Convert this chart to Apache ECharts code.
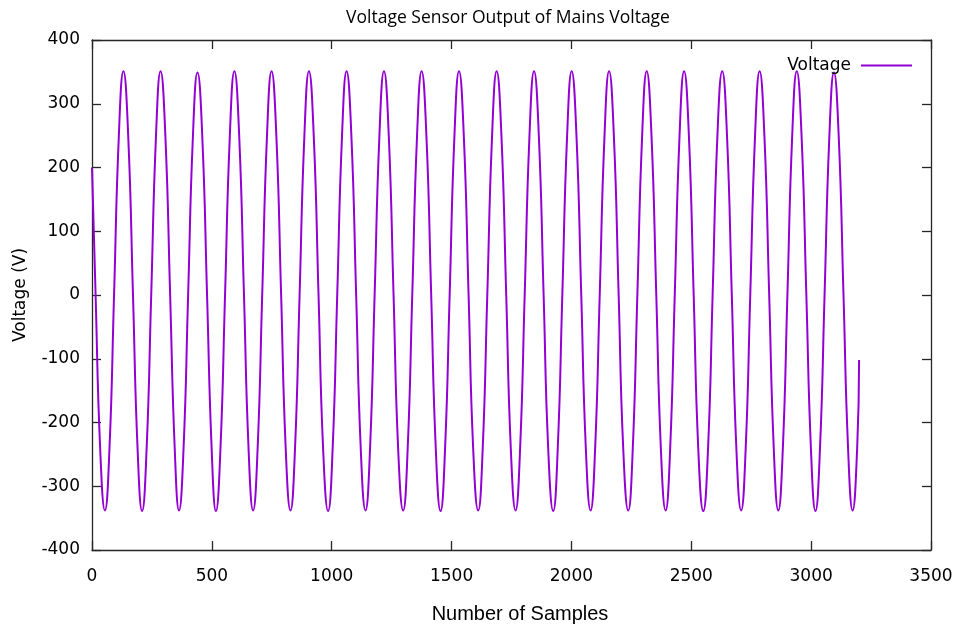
<!DOCTYPE html>
<html>
<head>
<meta charset="utf-8">
<script src="https://cdn.jsdelivr.net/npm/echarts@6/dist/echarts.min.js"></script>
<style>
  html, body { margin: 0; padding: 0; background: #ffffff; }
  #chart { width: 959px; height: 625px; }
</style>
</head>
<body>
<div id="chart"></div>
<script>
// Sample index of each read-off point along the waveform
const samples = [
  0, 15, 34,
  54, 73, 92, 112, 131, 151, 171, 190,
  209, 228, 247, 267, 286, 306, 326, 345,
  363, 382, 401, 421, 440, 460, 480, 499,
  517, 536, 555, 575, 594, 614, 634, 653,
  672, 691, 710, 730, 749, 769, 789, 808,
  828, 847, 866, 886, 905, 925, 945, 964,
  985, 1004, 1023, 1043, 1062, 1082, 1102, 1121,
  1141, 1160, 1179, 1199, 1218, 1238, 1258, 1277,
  1298, 1317, 1336, 1356, 1375, 1395, 1415, 1434,
  1454, 1473, 1492, 1512, 1531, 1551, 1571, 1590,
  1611, 1630, 1649, 1669, 1688, 1708, 1728, 1747,
  1767, 1786, 1805, 1825, 1844, 1864, 1884, 1903,
  1924, 1943, 1962, 1982, 2001, 2021, 2041, 2060,
  2080, 2099, 2118, 2138, 2157, 2177, 2197, 2216,
  2237, 2256, 2275, 2295, 2314, 2334, 2354, 2373,
  2393, 2412, 2431, 2451, 2470, 2490, 2510, 2529,
  2550, 2570, 2589, 2609, 2629, 2649, 2669, 2688,
  2708, 2727, 2746, 2766, 2785, 2805, 2825, 2844,
  2863, 2882, 2901, 2921, 2940, 2960, 2980, 2999,
  3018, 3037, 3056, 3076, 3095, 3115, 3135, 3154,
  3173, 3192, 3200
];

// Measured voltage (V) at each of those samples
const voltage = [
  200, 0, -240,
  -338, -240, 0, 250, 351, 250, 0, -240,
  -339, -240, 0, 250, 351, 250, 0, -240,
  -338, -240, 0, 249, 349, 249, 0, -240,
  -339, -240, 0, 250, 351, 250, 0, -240,
  -338, -240, 0, 250, 351, 250, 0, -240,
  -338, -240, 0, 250, 351, 250, 0, -240,
  -339, -240, 0, 250, 351, 250, 0, -240,
  -338, -240, 0, 250, 351, 250, 0, -240,
  -338, -240, 0, 250, 351, 250, 0, -240,
  -339, -240, 0, 250, 351, 250, 0, -240,
  -338, -240, 0, 250, 351, 250, 0, -240,
  -338, -240, 0, 250, 351, 250, 0, -240,
  -339, -240, 0, 250, 351, 250, 0, -240,
  -338, -240, 0, 250, 351, 250, 0, -240,
  -338, -240, 0, 250, 351, 250, 0, -240,
  -338, -240, 0, 250, 351, 250, 0, -240,
  -339, -240, 0, 250, 351, 250, 0, -240,
  -338, -240, 0, 250, 351, 250, 0, -240,
  -338, -240, 0, 250, 351, 250, 0, -240,
  -339, -240, 0, 249, 349, 249, 0, -240,
  -338, -240, -102
];

const xTicks = { min: 0, max: 3500, interval: 500 };
const yTicks = { min: -400, max: 400, interval: 100 };

const seriesName = 'Voltage';
const chartTitle = 'Voltage Sensor Output of Mains Voltage';
const xName = 'Number of Samples';
const yName = 'Voltage (V)';

const points = samples.map((s, i) => [s, voltage[i]]);

const axisColor = '#262626';
const tickFont = { fontFamily: 'DejaVu Sans', fontSize: 17, color: '#000000' };
const plainNumber = v => String(v);

// Axis used for the four sides of the plot frame, ticks drawn inward
function frameAxis(position, ticks) {
  return {
    type: 'value',
    position: position,
    min: ticks.min, max: ticks.max, interval: ticks.interval,
    axisLine: { show: true, onZero: false, lineStyle: { color: axisColor, width: 1.3 } },
    axisTick: { show: true, inside: true, length: 9, lineStyle: { color: axisColor, width: 1.3 } },
    axisLabel: { show: false },
    splitLine: { show: false }
  };
}

const chart = echarts.init(document.getElementById('chart'), null, { renderer: 'canvas' });
chart.setOption({
  backgroundColor: '#ffffff',
  animation: false,
  grid: { left: 92, right: 28, top: 40, bottom: 75, containLabel: false, outerBoundsMode: 'none' },
  graphic: [{
    type: 'text',
    x: 508, y: 18,
    style: {
      text: chartTitle,
      font: '17.5px "Open Sans"',
      fill: '#000000',
      textAlign: 'center',
      textVerticalAlign: 'middle'
    }
  }],
  legend: {
    data: [seriesName],
    right: 42, top: 52,
    align: 'right',
    icon: 'rect',
    itemWidth: 51, itemHeight: 1.8,
    textStyle: { fontFamily: 'DejaVu Sans', fontSize: 17, color: '#000000', padding: [0, 5, 0, 0] }
  },
  xAxis: [Object.assign(frameAxis('bottom', xTicks), {
    name: xName,
    nameLocation: 'middle',
    nameGap: 54,
    nameTextStyle: { fontFamily: 'Liberation Sans', fontSize: 20, color: '#000000', padding: [0, 0, 0, 17] },
    axisLabel: Object.assign({ show: true, margin: 18, formatter: plainNumber }, tickFont)
  }), frameAxis('top', xTicks)],
  yAxis: [Object.assign(frameAxis('left', yTicks), {
    name: yName,
    nameLocation: 'middle',
    nameGap: 53,
    nameTextStyle: Object.assign({ padding: [0, 0, 10, 0] }, tickFont),
    axisLabel: Object.assign({ show: true, margin: 12, formatter: plainNumber }, tickFont)
  }), frameAxis('right', yTicks)],
  series: [{
    name: seriesName,
    type: 'line',
    xAxisIndex: 0,
    yAxisIndex: 0,
    data: points,
    smooth: 0.5,
    showSymbol: false,
    symbol: 'none',
    lineStyle: { color: '#9400d3', width: 2 },
    itemStyle: { color: '#9400d3' }
  }]
});
</script>
</body>
</html>
